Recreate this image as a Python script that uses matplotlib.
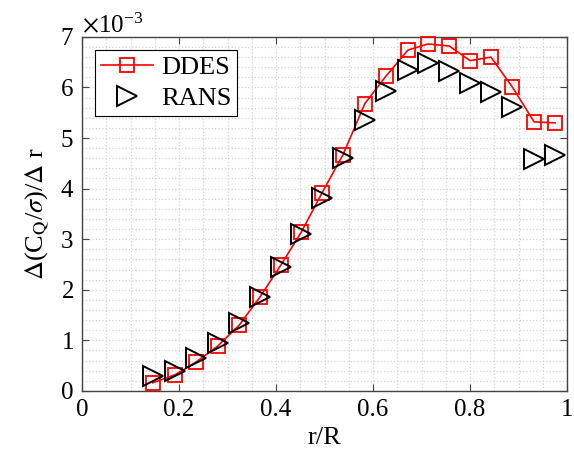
import numpy as np
import matplotlib
matplotlib.use("Agg")
from matplotlib import pyplot as plt
from matplotlib.ticker import MultipleLocator, ScalarFormatter

plt.rcParams['font.family'] = ['Liberation Serif', 'DejaVu Serif']
plt.rcParams['mathtext.fontset'] = 'stix'

# r/R stations
r = [0.146, 0.192, 0.235, 0.280, 0.324, 0.367, 0.410, 0.452, 0.495, 0.538,
     0.583, 0.627, 0.672, 0.713, 0.757, 0.800, 0.843, 0.887, 0.932, 0.975]
# d(CQ/sigma)/dr in units of 1e-3
ddes = [0.16, 0.32, 0.57, 0.89, 1.30, 1.86, 2.49, 3.14, 3.92, 4.67,
        5.68, 6.23, 6.74, 6.86, 6.82, 6.53, 6.60, 6.01, 5.32, 5.30]
rans = [0.30, 0.39, 0.65, 0.95, 1.34, 1.86, 2.45, 3.10, 3.82, 4.60,
        5.36, 5.93, 6.35, 6.49, 6.33, 6.09, 5.91, 5.62, 4.59, 4.67]

scale = 1e-3

fig = plt.figure(figsize=(5.74, 4.67), dpi=100)
ax = fig.add_axes([0.143, 0.163, 0.845, 0.758])

ax.plot(r, np.array(ddes) * scale, color='red', lw=1.2, marker='s', ms=10.5,
        mfc='none', mec='red', mew=1.3, label='DDES', clip_on=False, zorder=3)
ax.plot(r, np.array(rans) * scale, ls='none', marker='>', ms=15,
        mfc='none', mec='black', mew=1.4, label='RANS', clip_on=False, zorder=3)

ax.set_xlim(0, 1)
ax.set_ylim(0, 7e-3)
ax.xaxis.set_minor_locator(MultipleLocator(0.05))
ax.yaxis.set_major_locator(MultipleLocator(1e-3))
ax.yaxis.set_minor_locator(MultipleLocator(0.2e-3))
ax.set_xticks([0, 0.2, 0.4, 0.6, 0.8, 1.0])
ax.set_xticklabels(['0', '0.2', '0.4', '0.6', '0.8', '1'])

fmt = ScalarFormatter(useMathText=True)
fmt.set_powerlimits((-3, -3))
ax.yaxis.set_major_formatter(fmt)
ax.yaxis.get_offset_text().set_fontsize(18)

ax.grid(which='both', color='#d4d4d4', ls=':', lw=0.9)
ax.set_axisbelow(True)
ax.tick_params(which='both', direction='in', top=True, right=True,
               labelsize=18, color='#444444', pad=6)
ax.tick_params(which='minor', length=0)
ax.tick_params(which='major', length=5)
for s in ax.spines.values():
    s.set_color('#444444')
    s.set_linewidth(1.0)

ax.set_xlabel('r/R', fontsize=19, labelpad=4)
ax.set_ylabel(r'$\Delta$(C$_\mathrm{Q}$/$\sigma$)/$\Delta$ r', fontsize=19, labelpad=6)

leg = ax.legend(loc='upper left', fontsize=19, fancybox=False,
                edgecolor='black', framealpha=1, borderpad=0.2,
                handlelength=2.0, handletextpad=0.3, borderaxespad=0.5,
                labelspacing=0.3)
leg.get_frame().set_linewidth(0.8)

plt.savefig('out.png', dpi=100)
